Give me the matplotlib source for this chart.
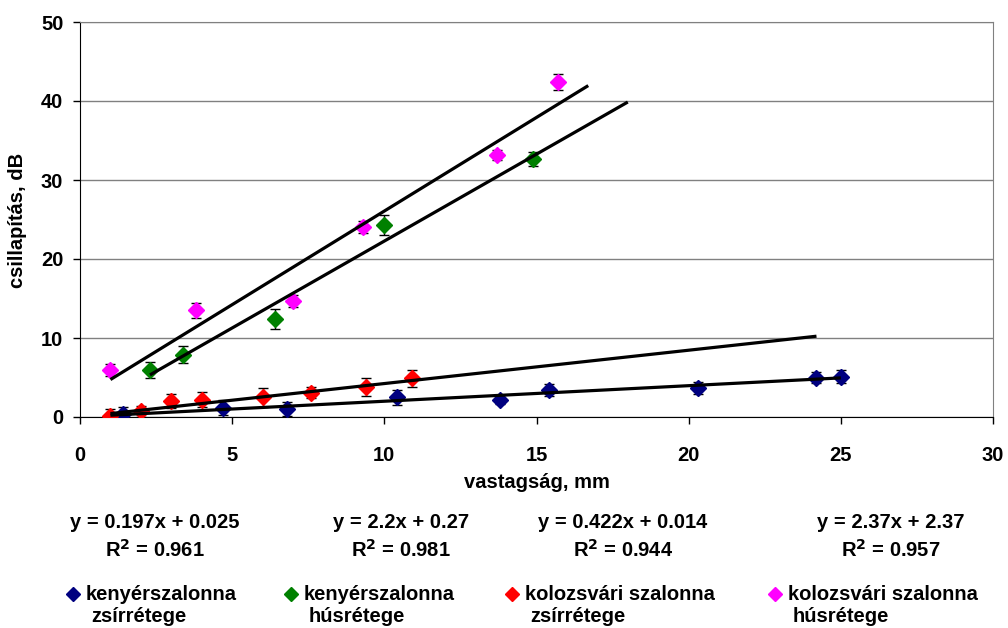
import matplotlib.pyplot as plt
from matplotlib.lines import Line2D
import numpy as np

plt.rcParams['font.family'] = ['Liberation Sans', 'DejaVu Sans']
plt.rcParams['font.weight'] = 'bold'

W, H = 1008, 628

# series: thickness (mm), attenuation (dB), error half-width
names = ["kenyérszalonna\nzsírrétege", "kenyérszalonna\nhúsrétege",
         "kolozsvári szalonna\nzsírrétege", "kolozsvári szalonna\nhúsrétege"]
colors = ["#000080", "#008000", "#FF0000", "#FF00FF"]

x_kzs = [1.4, 4.7, 6.8, 10.4, 13.8, 15.4, 20.3, 24.2, 25.0]
y_kzs = [0.4, 1.2, 1.0, 2.5, 2.2, 3.4, 3.7, 5.0, 5.1]
e_kzs = [0.9, 0.95, 0.85, 0.95, 0.55, 0.8, 0.75, 0.7, 0.8]

x_khu = [2.3, 3.4, 6.4, 10.0, 14.9]
y_khu = [6.0, 7.9, 12.4, 24.3, 32.7]
e_khu = [1.0, 1.05, 1.25, 1.3, 0.9]

x_szs = [1.0, 2.0, 3.0, 4.0, 6.0, 7.6, 9.4, 10.9]
y_szs = [0.1, 0.7, 2.0, 2.2, 2.5, 3.1, 3.8, 4.9]
e_szs = [0.9, 0.7, 0.9, 0.95, 1.2, 0.75, 1.15, 1.05]

x_shu = [1.0, 3.8, 7.0, 9.3, 13.7, 15.7]
y_shu = [5.9, 13.5, 14.7, 24.0, 33.2, 42.4]
e_shu = [0.75, 0.95, 0.75, 0.75, 0.65, 1.05]

# linear trendlines: slope, intercept, R^2, x-extent
slopes = [0.197, 2.2, 0.422, 2.37]
intercepts = [0.025, 0.27, 0.014, 2.37]
r2 = [0.961, 0.981, 0.944, 0.957]
trend_x = [(1.0, 25.0), (2.3, 18.0), (1.0, 24.2), (1.0, 16.7)]
eq_labels = ["y = 0.197x + 0.025", "y = 2.2x + 0.27", "y = 0.422x + 0.014", "y = 2.37x + 2.37"]

xs = [x_kzs, x_khu, x_szs, x_shu]
ys = [y_kzs, y_khu, y_szs, y_shu]
es = [e_kzs, e_khu, e_szs, e_shu]

fig = plt.figure(figsize=(W / 100, H / 100), dpi=100)
ax = fig.add_axes([80 / W, 1 - 417 / H, (993 - 80) / W, (417 - 22) / H])

for x, y, e, c in zip(xs, ys, es, colors):
    ax.errorbar(x, y, yerr=e, fmt='D', color=c, ms=8.3, mec=c,
                ecolor='black', elinewidth=1, capsize=3.5, capthick=1, zorder=3)

for k, b, (x0, x1) in zip(slopes, intercepts, trend_x):
    tx = np.array([x0, x1])
    ax.plot(tx, k * tx + b, color='black', lw=2.3, zorder=4, solid_capstyle='butt')

ax.set_xlim(0, 30)
ax.set_ylim(0, 50)
ax.set_xticks(range(0, 31, 5))
ax.set_yticks(range(0, 51, 10))
ax.yaxis.grid(True, color='#808080', lw=1)
ax.set_axisbelow(True)
for s in ['top', 'right']:
    ax.spines[s].set_color('#808080')
ax.spines['left'].set_color('black')
ax.spines['bottom'].set_color('black')
ax.tick_params(axis='both', direction='out', length=5, width=1, labelsize=14.5)
ax.xaxis.set_tick_params(pad=16)
ax.yaxis.set_tick_params(pad=7)
for lab in ax.get_xticklabels() + ax.get_yticklabels():
    lab.set_fontweight('bold')

fig.text(537 / W, 1 - 483 / H, "vastagság, mm", ha='center', va='center', fontsize=14.5, fontweight='bold')
fig.text(18 / W, 1 - 220 / H, "csillapítás, dB", ha='center', va='center', rotation=90,
         fontsize=14.5, fontweight='bold')

# trendline equations below the axis
eq_cx = [155, 401, 623, 891]
for cx, eq, r in zip(eq_cx, eq_labels, r2):
    fig.text(cx / W, 1 - 522 / H, eq, ha='center', va='center', fontsize=14.5, fontweight='bold')
    fig.text(cx / W, 1 - 550 / H, "R$^{\\mathbf{2}}$ = %.3f" % r, ha='center', va='center',
             fontsize=14.5, fontweight='bold')

# legend row
leg_mx = [73, 291, 512, 775]
for mx, name, c in zip(leg_mx, names, colors):
    fig.add_artist(Line2D([mx / W], [1 - 594 / H], marker='D', color=c, ms=7,
                          ls='none', transform=fig.transFigure))
    first, second = name.split("\n")
    fig.text((mx + 13) / W, 1 - 595 / H, first, ha='left', va='center', fontsize=14.5, fontweight='bold')
    fig.text((mx + 18) / W, 1 - 617 / H, second, ha='left', va='center', fontsize=14.5, fontweight='bold')

fig.savefig("out.png", dpi=100)
